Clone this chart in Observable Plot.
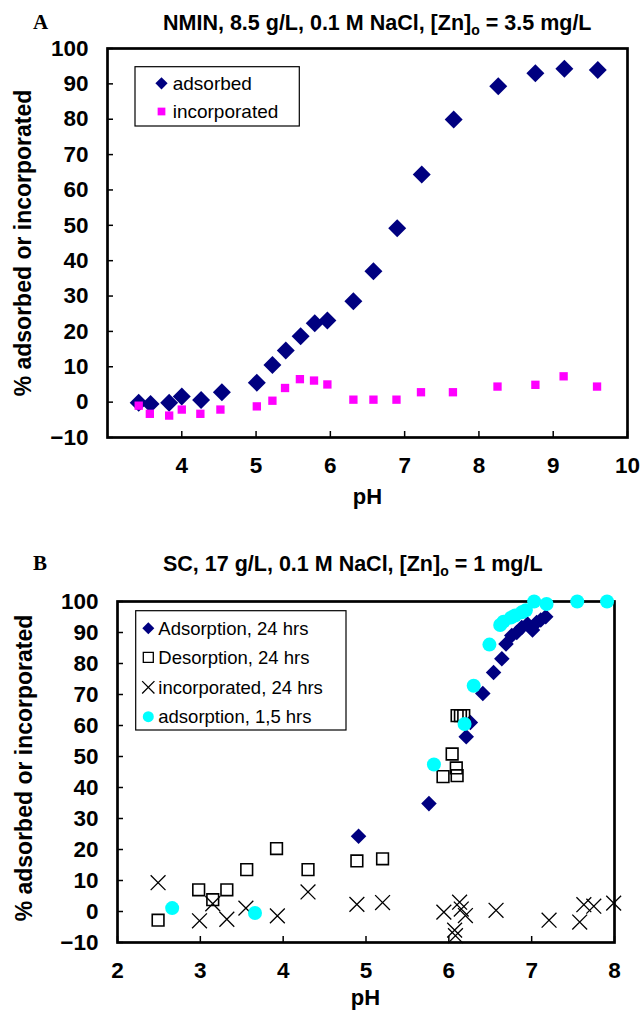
<!DOCTYPE html>
<html><head><meta charset="utf-8">
<script src="https://cdn.jsdelivr.net/npm/d3@7"></script>
<script src="https://cdn.jsdelivr.net/npm/@observablehq/plot@0.6"></script>
<style>
body{margin:0;background:#fff;}
#wrap{position:relative;width:642px;height:1011px;overflow:hidden;background:#fff;}
#wrap > svg{position:absolute;left:0;}
#overlay{position:absolute;left:0;top:0;pointer-events:none;}
</style></head>
<body><div id="wrap"></div>
<script>
// ---- shared ticks ----
const yTicks = [-10, 0, 10, 20, 30, 40, 50, 60, 70, 80, 90, 100];
const xTicksA = [4, 5, 6, 7, 8, 9, 10];
const xTicksB = [2, 3, 4, 5, 6, 7, 8];

// ---- Panel A : NMIN ----
const titleA = "NMIN, 8.5 g/L, 0.1 M NaCl, [Zn]";
const titleAEnd = " = 3.5 mg/L";
const seriesA = ["adsorbed", "incorporated"];
const phAdsA  = [3.42, 3.58, 3.83, 4.00, 4.26, 4.54, 5.01, 5.22, 5.40, 5.60, 5.79, 5.96, 6.31, 6.58, 6.90, 7.23, 7.66, 8.26, 8.76, 9.15, 9.60];
const valAdsA = [-0.2, -0.5, -0.2, 1.6, 0.6, 2.8, 5.5, 10.5, 14.6, 18.6, 22.3, 23.1, 28.5, 37.0, 49.2, 64.4, 79.9, 89.3, 93.0, 94.3, 93.9];
const phIncA  = [3.42, 3.57, 3.83, 4.00, 4.25, 4.52, 5.01, 5.22, 5.39, 5.59, 5.78, 5.96, 6.31, 6.58, 6.89, 7.22, 7.65, 8.25, 8.76, 9.14, 9.59];
const valIncA = [-1.0, -3.3, -3.8, -2.1, -3.3, -2.1, -1.2, 0.4, 4.0, 6.5, 6.1, 5.0, 0.7, 0.7, 0.7, 2.8, 2.8, 4.4, 4.9, 7.3, 4.4];

// ---- Panel B : SC ----
const titleB = "SC, 17 g/L, 0.1 M NaCl, [Zn]";
const titleBEnd = " = 1 mg/L";
const seriesB = ["Adsorption, 24 hrs", "Desorption, 24 hrs", "incorporated, 24 hrs", "adsorption, 1,5 hrs"];
const phAds24  = [4.91, 5.76, 6.21, 6.26, 6.41, 6.54, 6.64, 6.69, 6.76, 6.82, 6.88, 6.95, 7.01, 7.06, 7.11, 7.17];
const valAds24 = [24.3, 34.8, 56.4, 61.0, 70.3, 77.1, 81.5, 86.3, 89.0, 90.0, 91.6, 92.7, 90.8, 93.2, 94.0, 95.1];
const phDes24  = [2.49, 2.98, 3.15, 3.32, 3.56, 3.92, 4.30, 4.89, 5.20, 5.93, 6.04, 6.09, 6.10, 6.10, 6.14, 6.18];
const valDes24 = [-2.8, 7.0, 3.8, 7.0, 13.5, 20.3, 13.5, 16.3, 17.0, 43.5, 50.8, 46.3, 43.8, 63.2, 63.2, 63.2];
const phInc24  = [2.49, 2.99, 3.15, 3.32, 3.55, 3.93, 4.30, 4.89, 5.20, 5.94, 6.13, 6.15, 6.20, 6.07, 6.08, 6.57, 7.21, 7.58, 7.63, 7.75, 7.99];
const valInc24 = [9.3, -3.0, 2.5, -2.5, 1.1, -1.4, 6.3, 2.3, 2.9, -0.2, 3.0, 0.8, -1.3, -6.0, -7.8, 0.4, -2.8, -3.4, 2.2, 1.7, 2.7];
const phAds15  = [2.66, 3.66, 5.82, 6.19, 6.30, 6.49, 6.62, 6.66, 6.75, 6.80, 6.88, 6.93, 7.03, 7.18, 7.55, 7.91];
const valAds15 = [1.1, -0.5, 47.4, 60.5, 72.8, 86.1, 92.4, 93.5, 94.8, 95.5, 96.5, 97.2, 100, 99.2, 100, 100];

const zip = (xs, ys) => xs.map((x, i) => ({pH: x, v: ys[i]}));

const font = "Liberation Sans, Arial, sans-serif";
const navy = "#000080", magenta = "#FF00FF", cyan = "#00FFFF";

function axes(xTicks) {
  return [
    Plot.axisX(xTicks, {tickSize: 0, tickPadding: 20, label: null, fontSize: 22.5, fontWeight: "bold"}),
    Plot.axisX(xTicks, {tickSize: -6, fill: "none", label: null, strokeWidth: 1.5}),
    Plot.axisY(yTicks, {tickSize: 0, tickPadding: 19, label: null, fontSize: 22.5, fontWeight: "bold"}),
    Plot.axisY(yTicks, {tickSize: -6, fill: "none", label: null, strokeWidth: 1.5})
  ];
}

const plotA = Plot.plot({
  width: 642, height: 520,
  marginTop: 48, marginBottom: 83, marginLeft: 107, marginRight: 15,
  style: {fontFamily: font, background: "transparent", color: "black"},
  x: {domain: [3, 10], label: null},
  y: {domain: [-10, 100], label: null},
  marks: [
    ...axes(xTicksA),
    Plot.frame({stroke: "black", strokeWidth: 2.7}),
    Plot.dot(zip(phAdsA, valAdsA), {x: "pH", y: "v", symbol: "diamond2", r: 8.1, fill: navy}),
    Plot.dot(zip(phIncA, valIncA), {x: "pH", y: "v", symbol: "square", r: 4.7, fill: magenta})
  ]
});

const plotB = Plot.plot({
  width: 642, height: 471,
  marginTop: 61, marginBottom: 69, marginLeft: 117, marginRight: 28,
  style: {fontFamily: font, background: "transparent", color: "black"},
  x: {domain: [2, 8], label: null},
  y: {domain: [-10, 100], label: null},
  marks: [
    ...axes(xTicksB),
    Plot.frame({stroke: "black", strokeWidth: 2.7}),
    Plot.dot(zip(phAds24, valAds24), {x: "pH", y: "v", symbol: "diamond2", r: 7, fill: navy}),
    Plot.dot(zip(phDes24, valDes24), {x: "pH", y: "v", symbol: "square", r: 6.6, fill: "none", stroke: "black", strokeWidth: 1.6}),
    Plot.dot(zip(phInc24, valInc24), {x: "pH", y: "v", symbol: "times", r: 6.8, stroke: "black", strokeWidth: 1.3}),
    Plot.dot(zip(phAds15, valAds15), {x: "pH", y: "v", symbol: "circle", r: 7, fill: cyan})
  ]
});

const wrap = document.getElementById("wrap");
plotA.style.top = "0px";
plotB.style.top = "540px";
wrap.appendChild(plotA);
wrap.appendChild(plotB);

// ---- overlay: titles, axis titles, legends ----
const ov = d3.select(wrap).append("svg").attr("id", "overlay")
  .attr("width", 642).attr("height", 1011)
  .style("font-family", font);

function title(x, y, main, end) {
  const t = ov.append("text").attr("x", x).attr("y", y)
    .attr("font-size", 21.5).attr("font-weight", "bold");
  t.append("tspan").text(main);
  t.append("tspan").attr("font-size", 14).attr("dy", 5).text("o");
  t.append("tspan").attr("dy", -5).text(end);
}
function letter(x, y, s) {
  ov.append("text").attr("x", x).attr("y", y).text(s)
    .attr("font-family", "Liberation Serif, Times New Roman, serif")
    .attr("font-weight", "bold").attr("font-size", 21);
}
function ylab(cx, cy) {
  ov.append("text").attr("transform", `translate(${cx},${cy}) rotate(-90)`)
    .attr("text-anchor", "middle").attr("dy", "0.35em")
    .attr("font-size", 23).attr("font-weight", "bold")
    .text("% adsorbed or incorporated");
}
function xlab(cx, y) {
  ov.append("text").attr("x", cx).attr("y", y).attr("text-anchor", "middle")
    .attr("font-size", 22).attr("font-weight", "bold").text("pH");
}

letter(33, 29, "A");
title(163, 30, titleA, titleAEnd);
ylab(23, 243);
xlab(367.5, 504);

letter(33, 570, "B");
title(163, 571, titleB, titleBEnd);
ylab(24, 768);
xlab(365.5, 1005);

function sym(type, size) { return d3.symbol(type, size)(); }

// Legend A
ov.append("rect").attr("x", 135).attr("y", 66.7).attr("width", 164.3).attr("height", 59.3)
  .attr("fill", "white").attr("stroke", "black").attr("stroke-width", 1.2);
const legA = [
  {label: seriesA[0], y: 83.3, d: sym(d3.symbolDiamond2, Math.PI * 5.5 * 5.5), fill: navy},
  {label: seriesA[1], y: 111.5, d: sym(d3.symbolSquare, 60), fill: magenta}
];
legA.forEach(e => {
  ov.append("path").attr("d", e.d).attr("transform", `translate(161.5,${e.y})`).attr("fill", e.fill);
  ov.append("text").attr("x", 172.7).attr("y", e.y + 6.5).attr("font-size", 19).text(e.label);
});

// Legend B
ov.append("rect").attr("x", 135.7).attr("y", 610.7).attr("width", 210.3).attr("height", 119.3)
  .attr("fill", "white").attr("stroke", "black").attr("stroke-width", 1.2);
const legB = [
  {y: 628.3, d: sym(d3.symbolDiamond2, Math.PI * 5.4 * 5.4), fill: navy, stroke: "none"},
  {y: 657.3, d: sym(d3.symbolSquare, 100), fill: "none", stroke: "black"},
  {y: 687.3, d: sym(d3.symbolTimes, 100), fill: "none", stroke: "black"},
  {y: 716.7, d: sym(d3.symbolCircle, Math.PI * 5.5 * 5.5), fill: cyan, stroke: "none"}
];
legB.forEach((e, i) => {
  ov.append("path").attr("d", e.d).attr("transform", `translate(148.3,${e.y})`)
    .attr("fill", e.fill).attr("stroke", e.stroke).attr("stroke-width", 1.3);
  ov.append("text").attr("x", 158.3).attr("y", e.y + 6.5).attr("font-size", 18.5).text(seriesB[i]);
});
</script>
</body></html>
